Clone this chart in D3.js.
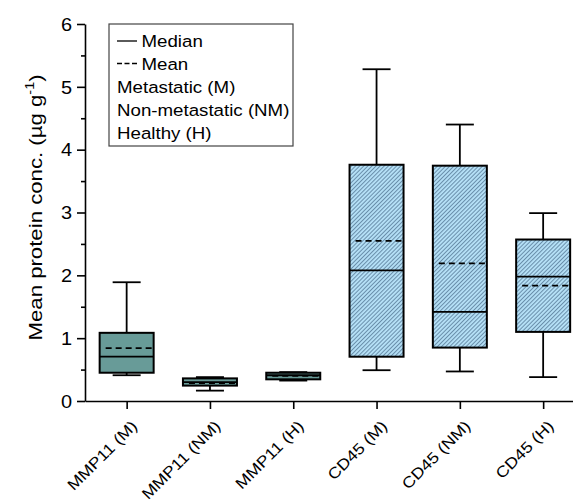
<!DOCTYPE html>
<html lang="en">
<head>
    <meta charset="UTF-8">
    <title>Mean protein concentration box plot</title>
    <script src="https://d3js.org/d3.v7.min.js"></script>
    <style>
        body {
            margin: 0;
            background: #fff;
        }
        svg text {
            font-family: Arial, "Liberation Sans", sans-serif;
            fill: #000;
        }
        .axis path, .axis line {
            stroke: #000;
            stroke-width: 1.6px;
        }
    </style>
</head>
<body>
    <div id="chart"></div>
    <script>
        // Categories and box statistics
        const categories = ["MMP11 (M)", "MMP11 (NM)", "MMP11 (H)", "CD45 (M)", "CD45 (NM)", "CD45 (H)"];
        const whiskerLow  = [0.41, 0.165, 0.325, 0.49, 0.47, 0.38];
        const boxLow      = [0.45, 0.245, 0.345, 0.705, 0.85, 1.10];
        const medians     = [0.705, 0.30, 0.41, 2.08, 1.42, 1.98];
        const means       = [0.84, 0.285, 0.40, 2.55, 2.19, 1.835];
        const boxHigh     = [1.085, 0.36, 0.45, 3.76, 3.745, 2.57];
        const whiskerHigh = [1.89, 0.38, 0.46, 5.28, 4.40, 2.99];
        const groups      = ["MMP11", "MMP11", "MMP11", "CD45", "CD45", "CD45"];
        const yTicks = [0, 1, 2, 3, 4, 5, 6];
        const legendLines = ["Metastatic (M)", "Non-metastatic (NM)", "Healthy (H)"];

        const width = 573;
        const height = 504;
        const margin = {left: 85, top: 24, bottom: 103};
        const stretch = 1.14;   // the original text is set wide

        const svg = d3.select("#chart")
            .append("svg")
            .attr("width", width)
            .attr("height", height);

        // hatch pattern for the CD45 boxes
        const defs = svg.append("defs");
        const pat = defs.append("pattern")
            .attr("id", "hatch")
            .attr("patternUnits", "userSpaceOnUse")
            .attr("width", 2.9)
            .attr("height", 2.9)
            .attr("patternTransform", "rotate(45)");
        pat.append("rect").attr("width", 2.9).attr("height", 2.9).attr("fill", "#b4dff6");
        pat.append("line")
            .attr("x1", 0.5).attr("y1", 0).attr("x2", 0.5).attr("y2", 2.9)
            .attr("stroke", "#567a98").attr("stroke-width", 0.8);

        const x = d3.scaleLinear()
            .domain([-0.5, 5.5])
            .range([margin.left, margin.left + 6 * 83.3]);

        const y = d3.scaleLinear()
            .domain([0, 6])
            .range([height - margin.bottom, margin.top]);

        // Y axis with minor ticks
        const yMinor = d3.range(0.5, 6, 1);
        svg.append("g")
            .attr("class", "axis")
            .attr("transform", `translate(${margin.left},0)`)
            .call(d3.axisLeft(y).tickValues(yMinor).tickSize(4).tickFormat(""))
            .select(".domain").remove();
        const yAxis = svg.append("g")
            .attr("class", "axis")
            .attr("transform", `translate(${margin.left},0)`)
            .call(d3.axisLeft(y).tickValues(yTicks).tickSize(8).tickSizeOuter(0).tickFormat(d3.format("d")));
        yAxis.selectAll("text")
            .style("font-size", "17.5px")
            .attr("x", 0)
            .attr("dy", "0.36em")
            .attr("transform", `translate(-13,0) scale(${stretch},1)`);

        // X axis
        const xAxis = svg.append("g")
            .attr("class", "axis")
            .attr("transform", `translate(0,${y(0)})`)
            .call(d3.axisBottom(x).tickValues(d3.range(categories.length)).tickSize(8).tickSizeOuter(0)
                .tickFormat(i => categories[i]));
        xAxis.selectAll("text")
            .style("font-size", "15.5px")
            .attr("text-anchor", "end")
            .attr("y", 0)
            .attr("dy", "0")
            .attr("transform", `translate(11,26) rotate(-45) scale(${stretch},1)`);

        // Y axis title
        const title = svg.append("text")
            .attr("transform", `translate(42,${y(3.08)}) rotate(-90) scale(1.2,1)`)
            .attr("text-anchor", "middle")
            .style("font-size", "18.5px");
        title.append("tspan").text("Mean protein conc. (\u00b5g g");
        title.append("tspan").attr("dy", -8).style("font-size", "12px").text("-1");
        title.append("tspan").attr("dy", 8).text(")");

        const boxW = 54;
        const capW = 28;

        const box = svg.append("g").selectAll("g")
            .data(categories.map((c, i) => i))
            .join("g");

        // whiskers
        box.append("line")
            .attr("x1", i => x(i)).attr("x2", i => x(i))
            .attr("y1", i => y(whiskerHigh[i])).attr("y2", i => y(boxHigh[i]))
            .attr("stroke", "#000").attr("stroke-width", 1.8);
        box.append("line")
            .attr("x1", i => x(i)).attr("x2", i => x(i))
            .attr("y1", i => y(boxLow[i])).attr("y2", i => y(whiskerLow[i]))
            .attr("stroke", "#000").attr("stroke-width", 1.8);
        box.append("line")
            .attr("x1", i => x(i) - capW / 2).attr("x2", i => x(i) + capW / 2)
            .attr("y1", i => y(whiskerHigh[i])).attr("y2", i => y(whiskerHigh[i]))
            .attr("stroke", "#000").attr("stroke-width", 1.8);
        box.append("line")
            .attr("x1", i => x(i) - capW / 2).attr("x2", i => x(i) + capW / 2)
            .attr("y1", i => y(whiskerLow[i])).attr("y2", i => y(whiskerLow[i]))
            .attr("stroke", "#000").attr("stroke-width", 1.8);

        // boxes
        box.append("rect")
            .attr("x", i => x(i) - boxW / 2)
            .attr("width", boxW)
            .attr("y", i => y(boxHigh[i]))
            .attr("height", i => y(boxLow[i]) - y(boxHigh[i]))
            .attr("fill", i => groups[i] === "CD45" ? "url(#hatch)" : "#689b98")
            .attr("stroke", "#000")
            .attr("stroke-width", 2);

        // median (solid) and mean (dashed)
        box.append("line")
            .attr("x1", i => x(i) - boxW / 2).attr("x2", i => x(i) + boxW / 2)
            .attr("y1", i => y(medians[i])).attr("y2", i => y(medians[i]))
            .attr("stroke", "#000").attr("stroke-width", 1.8);
        box.append("line")
            .attr("x1", i => x(i) - boxW / 2 + 6).attr("x2", i => x(i) + boxW / 2)
            .attr("y1", i => y(means[i])).attr("y2", i => y(means[i]))
            .attr("stroke", "#000").attr("stroke-width", 1.8)
            .attr("stroke-dasharray", "6,4");

        // legend
        const lg = svg.append("g").attr("transform", "translate(109,24)");
        lg.append("rect")
            .attr("width", 184).attr("height", 122)
            .attr("fill", "#fff").attr("stroke", "#444").attr("stroke-width", 1.2);
        lg.append("line")
            .attr("x1", 8).attr("x2", 28).attr("y1", 17).attr("y2", 17)
            .attr("stroke", "#000").attr("stroke-width", 1.3);
        lg.append("line")
            .attr("x1", 8).attr("x2", 28).attr("y1", 39.5).attr("y2", 39.5)
            .attr("stroke", "#000").attr("stroke-width", 1.3)
            .attr("stroke-dasharray", "5,2.5");
        const legendText = (label, lx, ly) => lg.append("text")
            .attr("transform", `translate(${lx},${ly}) scale(1.12,1)`)
            .style("font-size", "16.7px")
            .text(label);
        legendText("Median", 32.5, 22.7);
        legendText("Mean", 32.5, 45.5);
        legendLines.forEach((d, i) => legendText(d, 8, 68.7 + i * 23.3));
    </script>
</body>
</html>
